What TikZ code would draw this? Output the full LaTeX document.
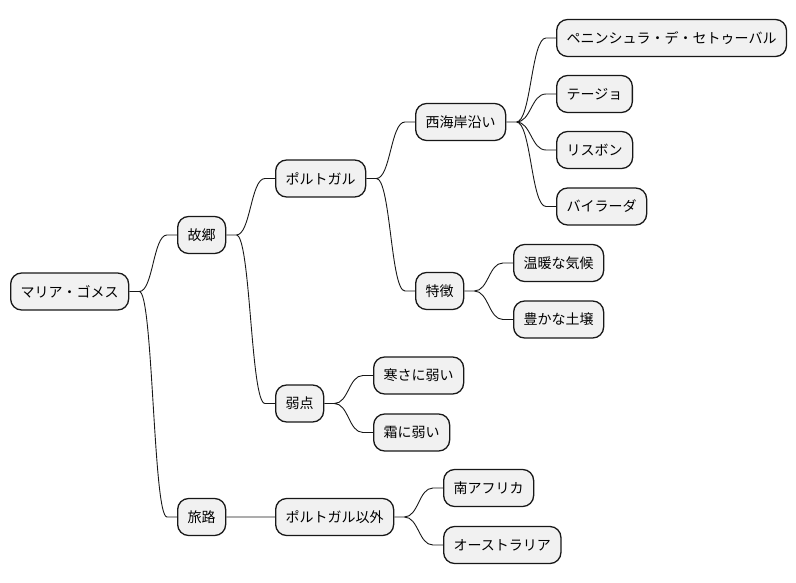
\documentclass[tikz,border=0pt]{standalone}
\usepackage{fontspec}
\setmainfont{Noto Sans CJK JP}
\usetikzlibrary{calc}
\definecolor{nodefill}{HTML}{F1F1F1}
\definecolor{linec}{HTML}{181818}
\tikzset{
  mmnode/.style={draw=linec, fill=nodefill, line width=1.3pt, rounded corners=11pt,
    minimum height=37pt, inner xsep=10pt, inner ysep=0pt, anchor=west,
    font=\fontsize{14pt}{16pt}\selectfont, text=black},
  mmedge/.style={draw=linec, line width=0.9pt,
    to path={let \p1=(\tikztostart), \p2=(\tikztotarget) in
      -- (\x1+10pt,\y1) .. controls ({(\x1+\x2)/2},\y1) and ({(\x1+\x2)/2},\y2) .. (\x2-10pt,\y2) -- (\tikztotarget)}}
}
\begin{document}
\begin{tikzpicture}[x=1pt,y=-1pt]
\useasboundingbox (0,0) rectangle (796,583);
\node[mmnode] (root) at (10,291.5) {マリア・ゴメス};
\node[mmnode] (home) at (177,235) {故郷};
\node[mmnode] (trip) at (177,517) {旅路};
\node[mmnode] (pt) at (275,178.5) {ポルトガル};
\node[mmnode] (weak) at (275,403.5) {弱点};
\node[mmnode] (notpt) at (275,517) {ポルトガル以外};
\node[mmnode] (west) at (415,122) {西海岸沿い};
\node[mmnode] (feat) at (415,291) {特徴};
\node[mmnode] (pen) at (556,38) {ペニンシュラ・デ・セトゥーバル};
\node[mmnode] (tejo) at (556,94) {テージョ};
\node[mmnode] (lis) at (556,150) {リスボン};
\node[mmnode] (bai) at (556,206.5) {バイラーダ};
\node[mmnode] (warm) at (513,263) {温暖な気候};
\node[mmnode] (soil) at (513,319.5) {豊かな土壌};
\node[mmnode] (cold) at (373,375.5) {寒さに弱い};
\node[mmnode] (frost) at (373,432.5) {霜に弱い};
\node[mmnode] (sa) at (443,488) {南アフリカ};
\node[mmnode] (au) at (443,545) {オーストラリア};
\path[mmedge]
  (root.east) to (home.west)
  (root.east) to (trip.west)
  (home.east) to (pt.west)
  (home.east) to (weak.west)
  (trip.east) to (notpt.west)
  (pt.east) to (west.west)
  (pt.east) to (feat.west)
  (west.east) to (pen.west)
  (west.east) to (tejo.west)
  (west.east) to (lis.west)
  (west.east) to (bai.west)
  (feat.east) to (warm.west)
  (feat.east) to (soil.west)
  (weak.east) to (cold.west)
  (weak.east) to (frost.west)
  (notpt.east) to (sa.west)
  (notpt.east) to (au.west);
\end{tikzpicture}
\end{document}
